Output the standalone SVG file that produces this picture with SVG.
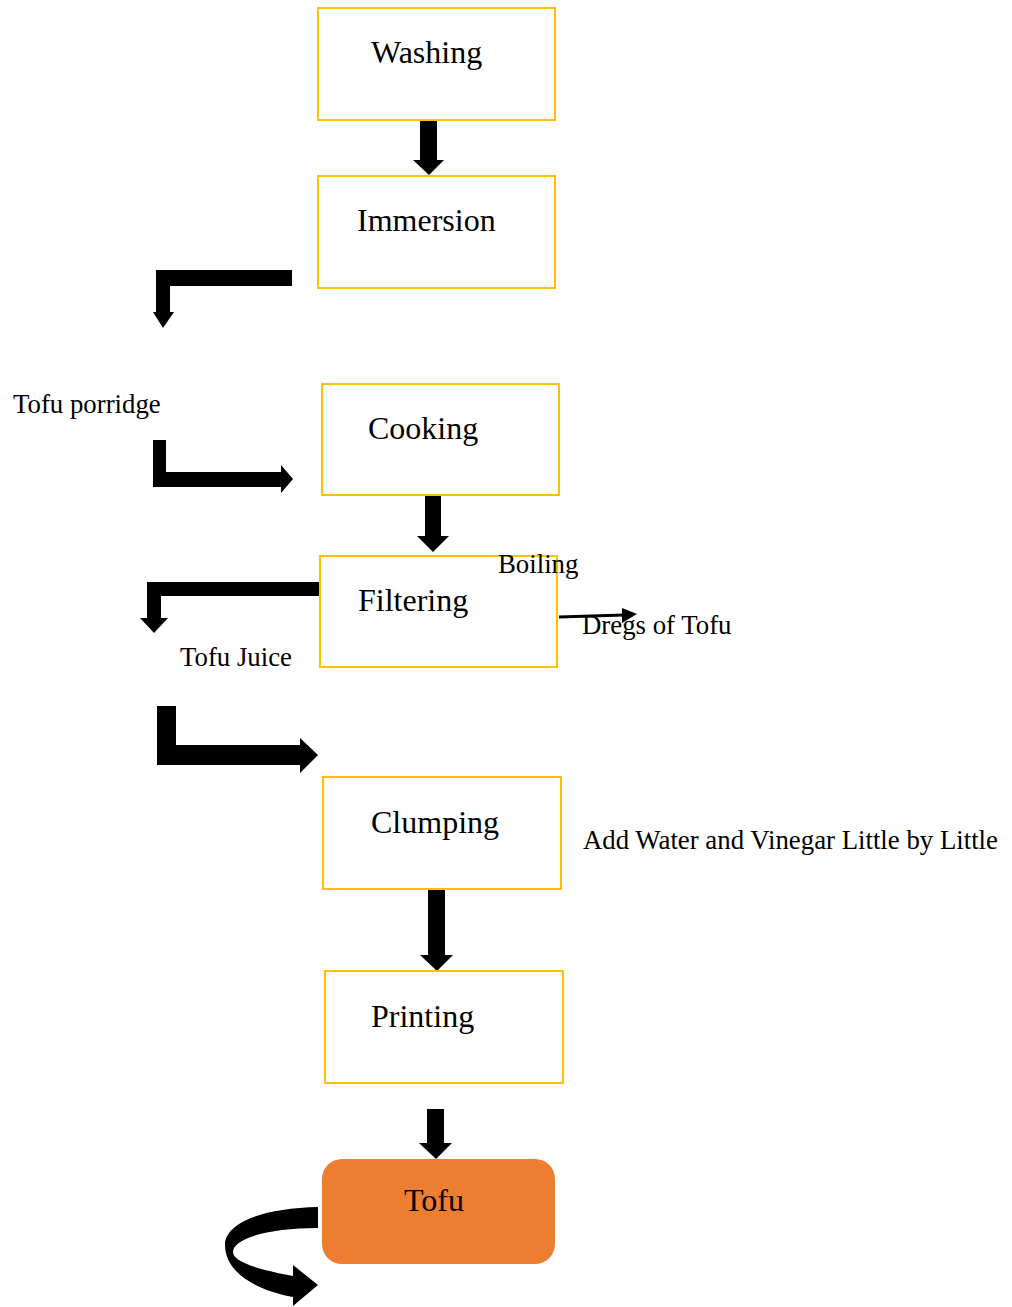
<svg xmlns="http://www.w3.org/2000/svg" width="1012" height="1307" viewBox="0 0 1012 1307">
<style>
.box{fill:#fff;stroke:#FFC000;stroke-width:2}
.bt{font-family:"Liberation Serif","Times New Roman",serif;font-size:32px;fill:#000}
.lt{font-family:"Liberation Serif","Times New Roman",serif;font-size:26.8px;fill:#000}
.ar{fill:#000}
</style>
<rect width="1012" height="1307" fill="#fff"/>
<g id="connectors">
<path class="ar" d="M420,120 H437 V160 H444 L429,175 L413,160 H420 Z"/>
<path class="ar" d="M425,495 H441 V536 H449 L433,552 L417,536 H425 Z"/>
<path class="ar" d="M428,889 H445 V955 H453 L437,971 L420,955 H428 Z"/>
<path class="ar" d="M427,1109 H444 V1143 H452 L436,1159 L419,1143 H427 Z"/>
<path class="ar" d="M292,270 V286 H170 V312 H174 L163,328 L153,312 H156 V270 Z"/>
<path class="ar" d="M153,440 H166 V472 H281 V465 L293,479 L281,493 V487 H153 Z"/>
<path class="ar" d="M320,582 V596 H161 V618 H168 L154,633 L140,618 H147 V582 Z"/>
<path class="ar" d="M157,706 H176 V745 H300 V738 L318,755 L300,773 V765 H157 Z"/>
<line x1="559" y1="617" x2="624" y2="615" stroke="#000" stroke-width="3"/>
<path class="ar" d="M622,608 L637,614 L622,623 Z"/>
<path class="ar" d="M318,1207 C265,1208 225,1222 225,1245 C225,1272 255,1290 293,1297 L293,1306 L318,1285 L293,1265 L293,1276 C260,1270 233,1262 233,1252 C233,1238 270,1228 318,1228 Z"/>
</g>
<g id="washing"><rect class="box" x="318" y="8" width="237" height="112"/><text class="bt" x="371" y="63">Washing</text></g>
<g id="immersion"><rect class="box" x="318" y="176" width="237" height="112"/><text class="bt" x="357" y="231">Immersion</text></g>
<g id="cooking"><rect class="box" x="322" y="384" width="237" height="111"/><text class="bt" x="368" y="439">Cooking</text></g>
<g id="filtering"><rect class="box" x="320" y="556" width="237" height="111"/><text class="bt" x="358" y="611">Filtering</text></g>
<g id="clumping"><rect class="box" x="323" y="777" width="238" height="112"/><text class="bt" x="371" y="833">Clumping</text></g>
<g id="printing"><rect class="box" x="325" y="971" width="238" height="112"/><text class="bt" x="371" y="1027">Printing</text></g>
<g id="tofu"><rect x="322" y="1159" width="233" height="105" rx="20" fill="#ED7D31"/><text class="bt" x="404" y="1211">Tofu</text></g>
<g id="labels">
<text class="lt" x="13" y="413">Tofu porridge</text>
<text class="lt" x="180" y="666">Tofu Juice</text>
<text class="lt" x="498" y="573">Boiling</text>
<text class="lt" x="582" y="634">Dregs of Tofu</text>
<text class="lt" x="583" y="849">Add Water and Vinegar Little by Little</text>
</g>
</svg>
